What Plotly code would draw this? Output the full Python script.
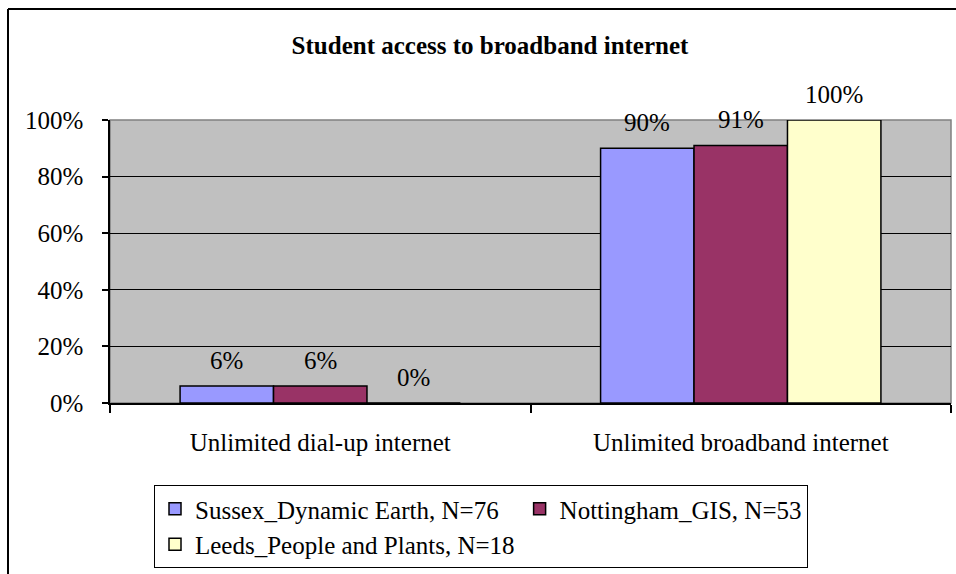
import plotly.graph_objects as go

categories = ["Unlimited dial-up internet", "Unlimited broadband internet"]
series_names = ["Sussex_Dynamic Earth, N=76", "Nottingham_GIS, N=53", "Leeds_People and Plants, N=18"]
series_values = [
    [0.06, 0.90],
    [0.06, 0.91],
    [0.00, 1.00],
]
series_colors = ["#9999FF", "#993366", "#FFFFCC"]
y_ticks = [0, 0.2, 0.4, 0.6, 0.8, 1.0]
y_ticklabels = ["0%", "20%", "40%", "60%", "80%", "100%"]

FONT = "Liberation Serif, Times New Roman, serif"
FS = 25
W, H = 956, 574
ML, MR, MT, MB = 110, 5, 120, 171

bargap = 1 / 3
n = len(series_names)
bar_w = (1 - bargap) / n
xpos = list(range(len(categories)))

fig = go.Figure()
for j, (name, vals, col) in enumerate(zip(series_names, series_values, series_colors)):
    fig.add_trace(go.Bar(
        x=xpos, y=vals, name=name,
        marker=dict(color=col, line=dict(color="black", width=1.5)),
    ))

annotations = []
for j, vals in enumerate(series_values):
    for i, v in enumerate(vals):
        annotations.append(dict(
            x=xpos[i] + (j - (n - 1) / 2) * bar_w, y=v, xref="x", yref="y",
            text=f"{round(v * 100)}%", showarrow=False, yanchor="bottom",
            yshift=10, font=dict(family=FONT, size=FS, color="black"),
        ))

pw = W - ML - MR
ph = H - MT - MB
bx = (8 - ML) / pw
by = (H - MB - 9) / ph
shapes = [
    dict(type="rect", xref="paper", yref="paper", x0=0, x1=1, y0=0, y1=1,
         line=dict(color="#808080", width=1.5), layer="below"),
    dict(type="line", xref="paper", yref="paper", x0=bx, x1=bx, y0=by, y1=-1.0,
         line=dict(color="black", width=2)),
    dict(type="line", xref="paper", yref="paper", x0=bx, x1=1.2, y0=by, y1=by,
         line=dict(color="black", width=2)),
]

fig.update_layout(
    width=W, height=H,
    margin=dict(l=ML, r=MR, t=MT, b=MB, pad=0),
    paper_bgcolor="white", plot_bgcolor="#C0C0C0",
    barmode="group", bargap=bargap, bargroupgap=0,
    title=dict(text="<b>Student access to broadband internet</b>", x=(490 - ML) / pw, xref="paper",
               xanchor="center", y=1 - 45 / H, yanchor="middle",
               font=dict(family=FONT, size=FS, color="black")),
    font=dict(family=FONT, size=FS, color="black"),
    showlegend=True,
    legend=dict(orientation="h", x=(154 - ML) / pw, xanchor="left",
                y=-(485 - (H - MB)) / ph, yanchor="top",
                bordercolor="black", borderwidth=1, bgcolor="white",
                font=dict(family=FONT, size=FS, color="black"),
                traceorder="normal"),
    annotations=annotations,
    shapes=shapes,
)
fig.update_xaxes(
    range=[-0.5, len(categories) - 0.5],
    tickmode="array", tickvals=xpos, ticktext=categories,
    ticks="", showgrid=False, zeroline=False,
    showline=True, linecolor="black", linewidth=1.5,
    ticklabelstandoff=16,
    minor=dict(tick0=0.5, dtick=1, ticks="outside", ticklen=8, tickcolor="black", tickwidth=1.5, showgrid=False),
    tickfont=dict(family=FONT, size=FS, color="black"),
)
fig.update_yaxes(
    range=[0, 1], tickmode="array", tickvals=y_ticks, ticktext=y_ticklabels,
    ticks="outside", ticklen=6, tickcolor="black", tickwidth=1.5,
    showgrid=True, gridcolor="black", gridwidth=1,
    zeroline=False, showline=True, linecolor="black", linewidth=1.5,
    ticklabelstandoff=14,
    tickfont=dict(family=FONT, size=FS, color="black"),
)

fig.write_html("out.html")
